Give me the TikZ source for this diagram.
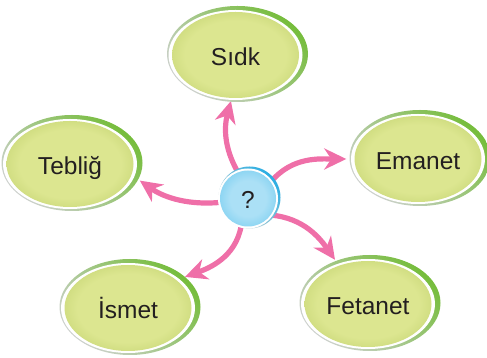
\documentclass[tikz,border=0pt]{standalone}
\usepackage{fontspec}
\setsansfont{Liberation Sans}
\usetikzlibrary{shapes.geometric,arrows.meta,backgrounds}
\definecolor{ovalin}{HTML}{DCE690}
\definecolor{ovalout}{HTML}{9CB53F}
\definecolor{ringgreen}{HTML}{76BD3C}
\definecolor{ringgrey}{HTML}{CDD1CD}
\definecolor{hubin}{HTML}{ABE0F6}
\definecolor{hubout}{HTML}{40B9E9}
\definecolor{ringblue}{HTML}{2AAEE3}
\definecolor{arrowpink}{HTML}{EF6FA8}
\definecolor{labelgrey}{HTML}{231F20}
\pgfdeclareradialshading{ovalshade}{\pgfpoint{0bp}{0bp}}{color(0bp)=(ovalin);color(20bp)=(ovalin);color(50bp)=(ovalout)}
\pgfdeclareradialshading{hubshade}{\pgfpoint{0bp}{0bp}}{color(0bp)=(hubin);color(16bp)=(hubin);color(50bp)=(hubout)}
\begin{document}
\begin{tikzpicture}[x=1pt,y=1pt,
    label font/.style={text=labelgrey,font=\sffamily\fontsize{24.5}{28}\selectfont,text height=21pt,text depth=0pt},
    oval/.style={ellipse,minimum width=127pt,minimum height=86pt,inner sep=0pt,shade,shading=ovalshade,label font},
    ovalring/.style={top color=#1,bottom color=ringgrey,shading angle=-45},
    hub/.style={circle,minimum size=56pt,inner sep=0pt,shade,shading=hubshade,label font},
    linkarrow/.style={arrowpink,line width=5.2pt,-{Stealth[length=22pt,width=21pt,inset=7pt]}}]
 \useasboundingbox (0,0) rectangle (487,358);
 \foreach \n/\x/\y/\t in {sidk/235.5/303/Sıdk,teblig/70/194/Tebliğ,emanet/418/199/Emanet,
     ismet/128/50/İsmet,fetanet/368/54/Fetanet}{
  \shade[ovalring=ringgreen] (\x+2,\y+1) ellipse (70.5 and 48);
  \fill[white] (\x,\y) ellipse (67 and 45);
  \node[oval] (\n) at (\x,\y) {\t};
 }
 \shade[ovalring=ringblue] (249.5,160.5) circle (31);
 \fill[white] (248,159.5) circle (30);
 \node[hub] (q) at (248,159.5) {?};
 \begin{scope}[on background layer]
  \draw[linkarrow,shorten >=3pt] (q.111) to[out=120,in=-105] (sidk.-95);
  \draw[linkarrow,shorten >=10pt] (q.188) to[out=185,in=-35] (teblig.-10);
  \draw[linkarrow,shorten >=8pt] (q.36) to[out=50,in=180] (emanet.west);
  \draw[linkarrow,shorten >=7pt] (q.-36) to[out=-5,in=125] (fetanet.127);
  \draw[linkarrow,shorten >=9pt] (q.-104) to[out=-100,in=20] (ismet.30);
 \end{scope}
\end{tikzpicture}
\end{document}
